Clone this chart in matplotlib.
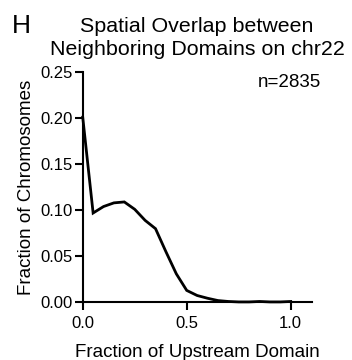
import numpy as np
import matplotlib
matplotlib.use('Agg')
import matplotlib.pyplot as plt

plt.rcParams['font.family'] = ['Liberation Sans', 'DejaVu Sans']

# overlap fraction bins and the share of chromosomes in each
overlap = [0.00, 0.05, 0.10, 0.15, 0.20, 0.25, 0.30, 0.35, 0.40, 0.45, 0.50,
           0.55, 0.60, 0.65, 0.70, 0.75, 0.80, 0.85, 0.90, 0.95, 1.00]
fraction = [0.201, 0.097, 0.104, 0.108, 0.109, 0.101, 0.089, 0.080, 0.055, 0.031, 0.013,
            0.0075, 0.0045, 0.002, 0.001, 0.0005, 0.0005, 0.001, 0.0005, 0.0005, 0.001]
x_ticks = [0.0, 0.5, 1.0]
y_ticks = [0.00, 0.05, 0.10, 0.15, 0.20, 0.25]
n_label = 'n=2835'

fig = plt.figure(figsize=(3.52, 3.6), dpi=100)
ax = fig.add_axes([0.235, 0.16, 0.65, 0.64])

ax.plot(overlap, fraction, color='black', lw=2.0, solid_joinstyle='miter', clip_on=False)

ax.set_xlim(0, 1.1)
ax.set_ylim(0, 0.25)
ax.set_xticks(x_ticks)
ax.set_xticklabels(['%.1f' % t for t in x_ticks])
ax.set_yticks(y_ticks)
ax.set_yticklabels(['%.2f' % t for t in y_ticks])

for side in ['top', 'right']:
    ax.spines[side].set_visible(False)
for side in ['left', 'bottom']:
    ax.spines[side].set_linewidth(1.5)
ax.tick_params(width=1.5, length=5.5, labelsize=12, pad=1.5)
ax.tick_params(axis='x', pad=4.5)

ax.set_xlabel('Fraction of Upstream Domain', fontsize=13.5, labelpad=9)
ax.set_ylabel('Fraction of Chromosomes', fontsize=13.5, labelpad=4)
ax.set_title('Spatial Overlap between\nNeighboring Domains on chr22', fontsize=15.4,
             linespacing=1.3, pad=12)
ax.text(0.84, 0.239, n_label, fontsize=13.5, va='center', ha='left')
fig.text(0.035, 0.928, 'H', fontsize=19, va='center', ha='left')

fig.savefig('out.png', dpi=100)
